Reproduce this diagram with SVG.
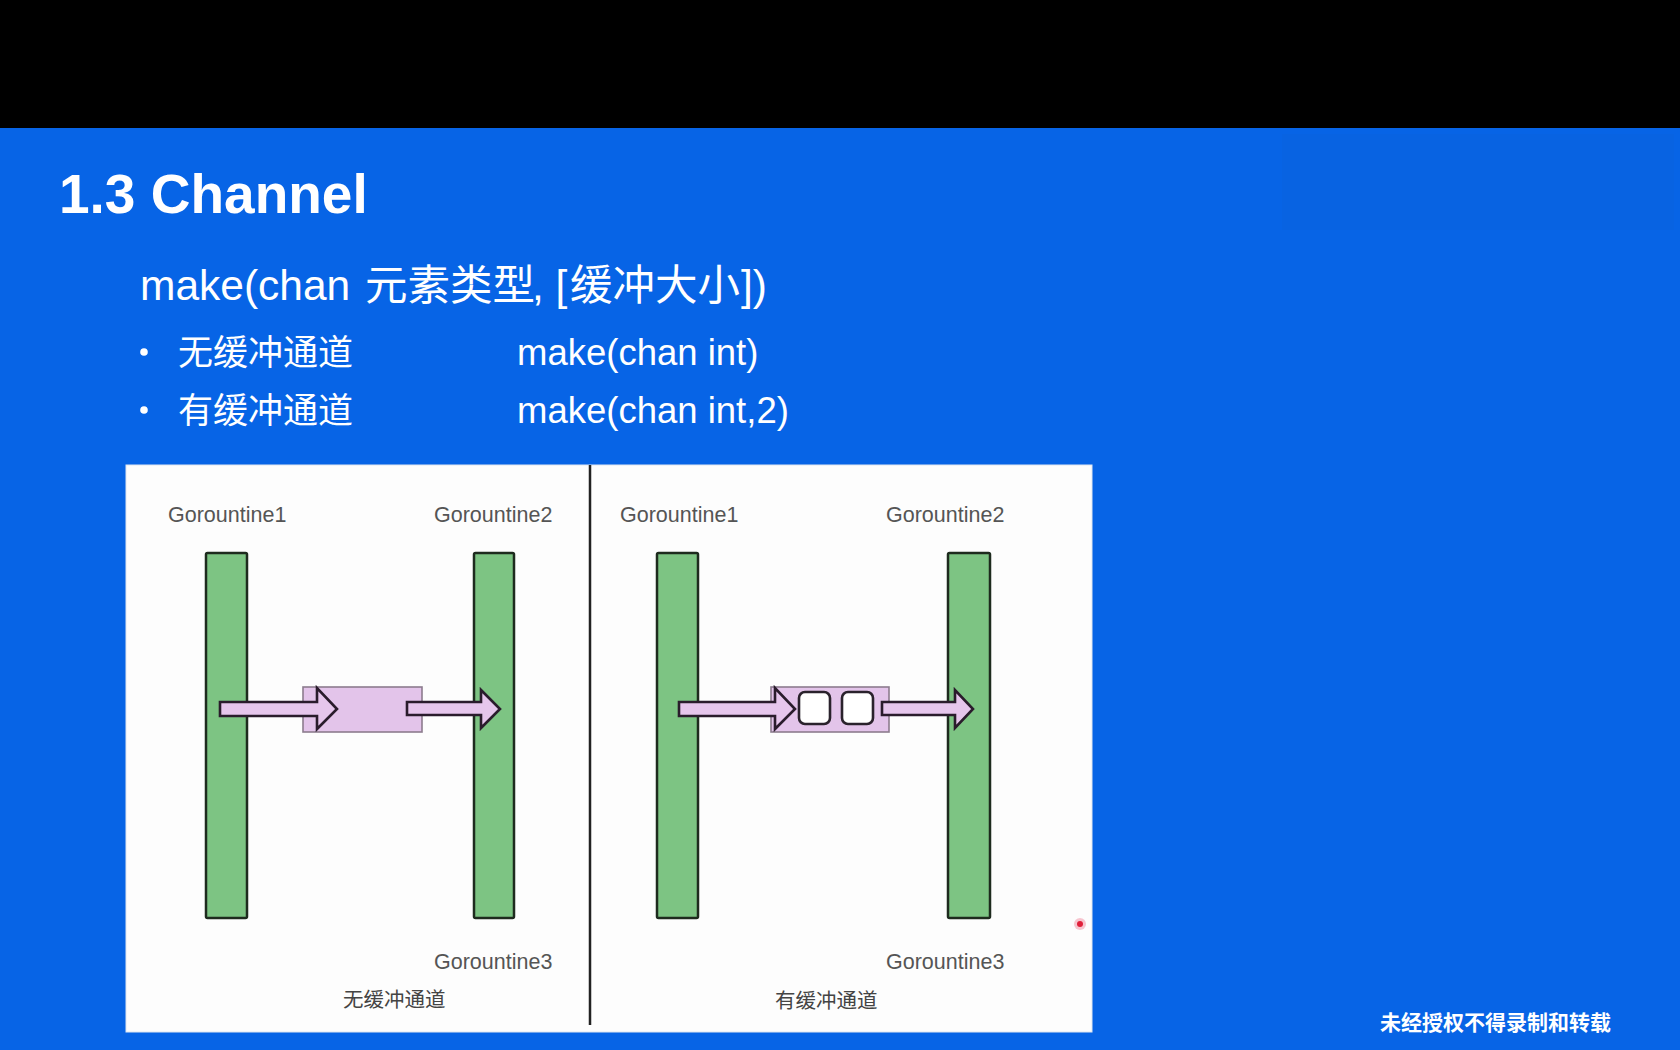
<svg xmlns="http://www.w3.org/2000/svg" width="1680" height="1050" viewBox="0 0 1680 1050">
  <style>
    .title { font-family: "Liberation Sans", Arial, sans-serif; font-weight: 700; font-size: 55px; fill: #ffffff; }
    .body { font-family: "Liberation Sans", "Noto Sans CJK SC", sans-serif; font-size: 42.5px; fill: #ffffff; }
    .cjk { font-family: "Noto Sans CJK SC", sans-serif; fill: #ffffff; }
    .code { font-family: "Liberation Sans", sans-serif; font-size: 36.5px; fill: #ffffff; }
    .label { font-family: "Liberation Sans", Arial, sans-serif; font-size: 21.5px; fill: #555555; }
    .caption { font-family: "Noto Sans CJK SC", sans-serif; font-size: 20.5px; fill: #444444; }
    .bar { fill: #7dc483; stroke: #1e2b1e; stroke-width: 2.5; }
    .chan { fill: #e3c4ea; stroke: #8c7c8e; stroke-width: 1.6; }
    .slot { fill: #ffffff; stroke: #2a222c; stroke-width: 2.6; }
    .arrow { fill: #e6c6ec; stroke: #2a1c2c; stroke-width: 2.6; stroke-linejoin: miter; }
    .divider { stroke: #222222; stroke-width: 2.5; }
  </style>

  <!-- slide background -->
  <rect x="0" y="0" width="1680" height="1050" fill="#0764e6"/>
  <rect x="0" y="0" width="1680" height="128" fill="#000000"/>
  <rect x="1282" y="134" width="392" height="96" fill="#0a5ed8" opacity="0.25"/>

  <!-- heading and bullet list -->
  <g id="heading">
    <text class="title" x="59" y="213">1.3 Channel</text>
  </g>
  <g id="syntax">
    <text class="body" y="300"><tspan x="140">make(chan</tspan><tspan class="cjk" x="365">元素类型</tspan><tspan x="532">, [</tspan><tspan class="cjk" x="570">缓冲大小</tspan><tspan x="741">])</tspan></text>
  </g>
  <g id="bullet-unbuffered">
    <circle cx="144" cy="352" r="3.8" fill="#ffffff"/>
    <text class="cjk" x="178" y="365" font-size="35">无缓冲通道</text>
    <text class="code" x="517" y="365">make(chan int)</text>
  </g>
  <g id="bullet-buffered">
    <circle cx="144" cy="410" r="3.8" fill="#ffffff"/>
    <text class="cjk" x="178" y="423" font-size="35">有缓冲通道</text>
    <text class="code" x="517" y="423">make(chan int,2)</text>
  </g>

  <!-- diagram panel -->
  <g id="panel">
    <rect x="126" y="465" width="966" height="567" fill="#fdfdfd" stroke="#dfe6f0" stroke-width="1"/>
    <line class="divider" x1="590" y1="465" x2="590" y2="1025"/>
  </g>

  <!-- unbuffered channel side -->
  <g id="unbuffered-g1">
    <text class="label" x="168" y="522">Gorountine1</text>
    <rect class="bar" x="206" y="553" width="41" height="365" rx="1.5"/>
  </g>
  <g id="unbuffered-g2">
    <text class="label" x="434" y="522">Gorountine2</text>
    <rect class="bar" x="474" y="553" width="40" height="365" rx="1.5"/>
  </g>
  <g id="unbuffered-g3">
    <text class="label" x="434" y="969">Gorountine3</text>
  </g>
  <g id="unbuffered-chan">
    <rect class="chan" x="303" y="687" width="119" height="45"/>
  </g>
  <g id="unbuffered-caption">
    <text class="caption" x="343" y="1007">无缓冲通道</text>
  </g>

  <!-- buffered channel side -->
  <g id="buffered-g1">
    <text class="label" x="620" y="522">Gorountine1</text>
    <rect class="bar" x="657" y="553" width="41" height="365" rx="1.5"/>
  </g>
  <g id="buffered-g2">
    <text class="label" x="886" y="522">Gorountine2</text>
    <rect class="bar" x="948" y="553" width="42" height="365" rx="1.5"/>
  </g>
  <g id="buffered-g3">
    <text class="label" x="886" y="969">Gorountine3</text>
  </g>
  <g id="buffered-chan">
    <rect class="chan" x="771" y="687" width="118" height="45"/>
    <rect class="slot" x="799" y="692" width="31" height="32" rx="6"/>
    <rect class="slot" x="842" y="692" width="31" height="32" rx="6"/>
  </g>
  <g id="buffered-caption">
    <text class="caption" x="775" y="1008">有缓冲通道</text>
  </g>

  <!-- block arrows: send into channel, receive out of it -->
  <g id="connectors">
    <polygon class="arrow" points="220,702 317,702 317,688 337,709 317,729 317,716 220,716"/>
    <polygon class="arrow" points="407,702 481,702 481,690 500,709 481,728 481,715 407,715"/>
    <polygon class="arrow" points="679,702 775,702 775,688 795,709 775,729 775,716 679,716"/>
    <polygon class="arrow" points="882,702 955,702 955,690 973,709 955,728 955,715 882,715"/>
  </g>

  <!-- pointer dot -->
  <circle cx="1080" cy="924" r="6" fill="#f4a0b0" opacity="0.6"/>
  <circle cx="1080" cy="924" r="3" fill="#e0203a"/>

  <!-- watermark -->
  <text class="cjk" x="1380" y="1030" font-size="21" font-weight="700" fill="#eef2ff">未经授权不得录制和转载</text>
</svg>
